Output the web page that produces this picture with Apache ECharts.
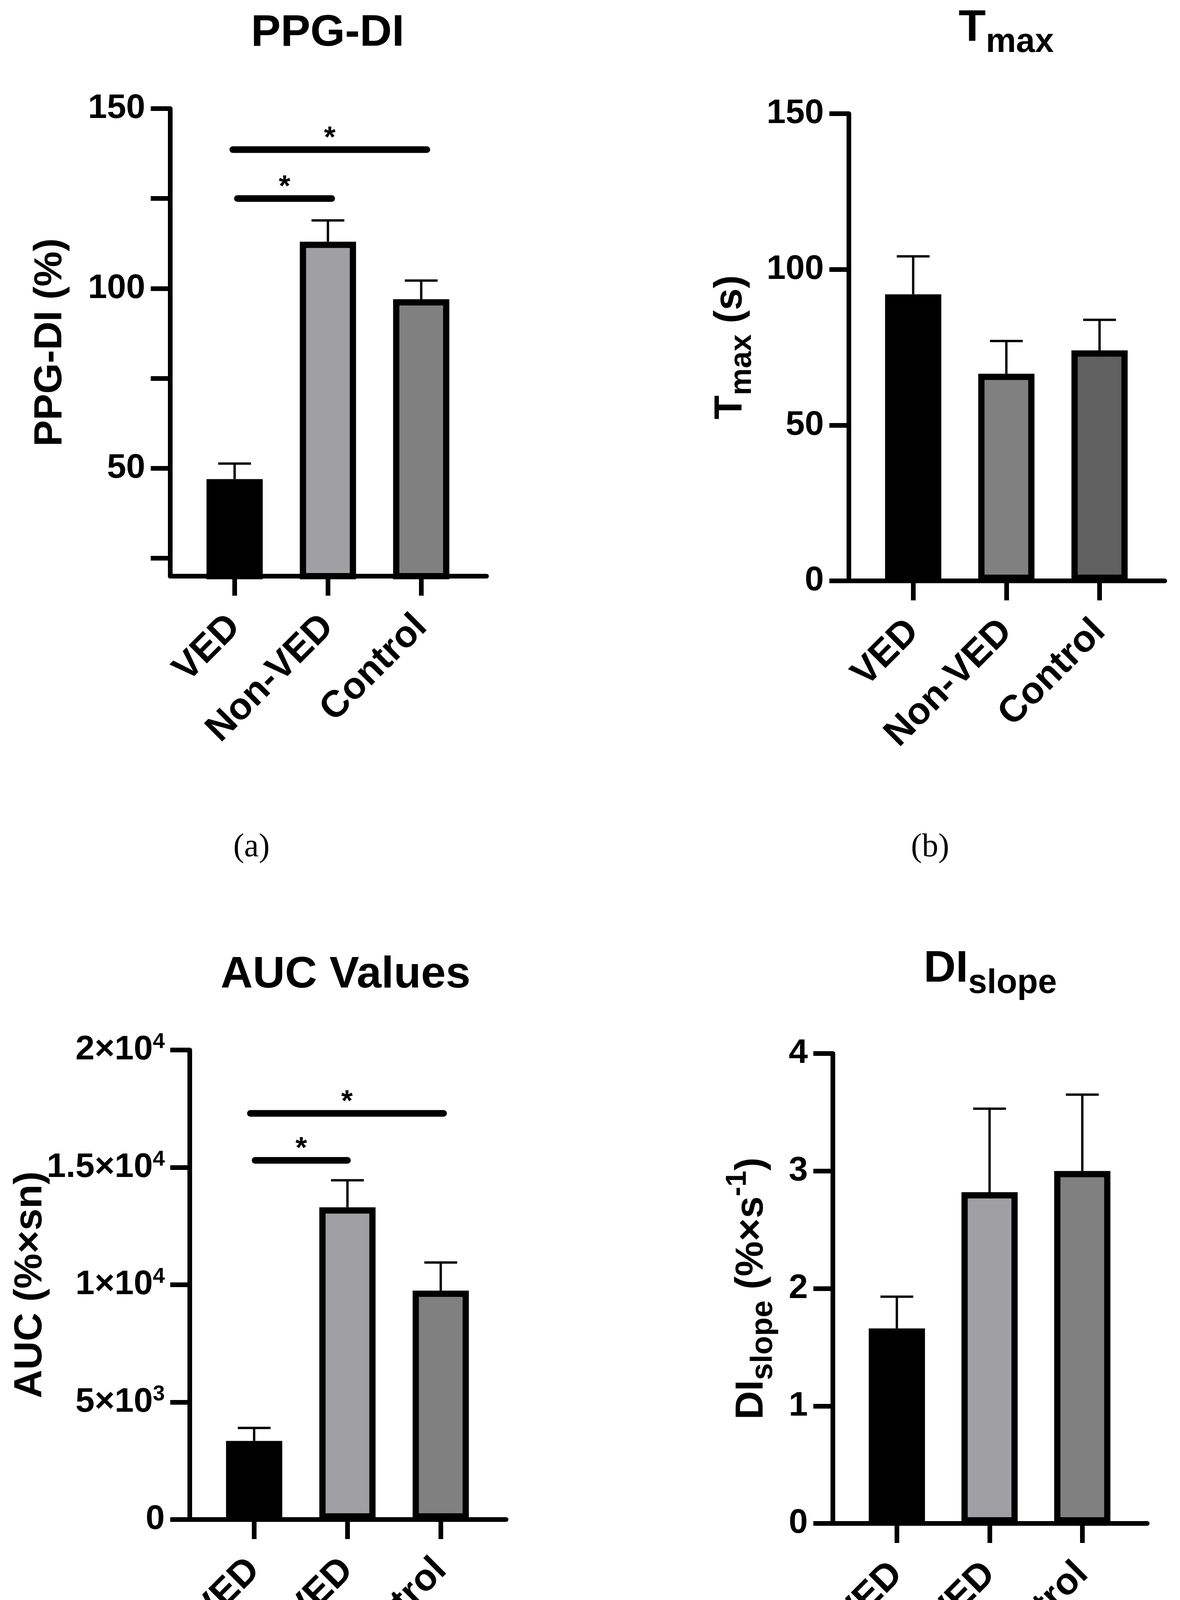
<!DOCTYPE html>
<html><head><meta charset="utf-8">
<script src="https://cdn.jsdelivr.net/npm/echarts@6/dist/echarts.min.js"></script>
<style>html,body{margin:0;padding:0;background:#fff}#c{width:3022px;height:4631px}</style>
</head><body><div id="c"></div><script>
// ---------------- data ----------------
const categories = ['VED', 'Non-VED', 'Control'];
const ppgdiMean = [47.0, 113.0, 97.0];
const ppgdiSem  = [4.3, 5.9, 5.2];
const tmaxMean  = [92.0, 66.5, 74.0];
const tmaxSem   = [12.2, 10.5, 9.8];
const aucMean   = [3350, 13300, 9750];
const aucSem    = [550, 1150, 1200];
const slopeMean = [1.66, 2.82, 3.00];
const slopeSem  = [0.27, 0.71, 0.65];
// significance bars: [from group, to group, height]
const ppgdiSig = [[0, 2, 138.6], [0, 1, 125.0]];
const aucSig   = [[0, 2, 17300], [0, 1, 15300]];
// axis ticks / labels
const ppgdiTicks  = [25, 50, 75, 100, 125, 150];
const ppgdiLabels = [50, 100, 150];
const tmaxTicks   = [0, 50, 100, 150];
const aucTicks    = [0, 5000, 10000, 15000, 20000];
const slopeTicks  = [0, 1, 2, 3, 4];
const catPositions = [0, 1, 2];

// ---------------- style / layout ----------------
const FF = '"Liberation Sans", Arial, Helvetica, sans-serif';
const SERIF = '"Liberation Serif", "Times New Roman", serif';
const W = 3022, H = 4631;
const lightColors = ['#000000', '#a0a0a4', '#808080'];
const darkColors  = ['#000000', '#808080', '#606060'];

const tickFont = 88, catFont = 96, nameFont = 101;
function tok(size, box, va, bold) {
  return {fontSize: size, fontWeight: bold === false ? 'normal' : 'bold', fontFamily: FF, color: '#000', fill: '#000',
          lineHeight: box, height: box, verticalAlign: va};
}
const nameRich = {b: tok(nameFont, 120, 'bottom'), s: tok(78, 60, 'bottom'), p: tok(74, 50, 'top')};
const tickRich = {b: tok(tickFont, 100, 'bottom'), p: tok(55, 60, 'top')};
const titleRich = {b: tok(114, 130, 'bottom'), s: tok(87, 58, 'bottom')};

function supFormat(v) {
  if (v === 0) return '{b|0}';
  const e = Math.floor(Math.log10(v));
  const m = v / Math.pow(10, e);
  return '{b|' + m + '×10}{p|' + e + '}';
}

const panels = [
  {means: ppgdiMean, sems: ppgdiSem, colors: lightColors, sig: ppgdiSig, sigExt: [[-0.02, 0.06], [0.03, 0.04]],
   left: 436, top: 278, axisY: 1475, width: 810,
   y: {min: 20, max: 150, axisTick: {customValues: ppgdiTicks}, axisLabel: {customValues: ppgdiLabels, formatter: v => '{b|' + v + '}'}},
   name: '{b|PPG-DI (%)}', nameGap: 247},
  {means: tmaxMean, sems: tmaxSem, colors: darkColors, sig: [], sigExt: [],
   left: 2174, top: 291, axisY: 1487, width: 809,
   y: {min: 0, max: 150, axisTick: {customValues: tmaxTicks}, axisLabel: {customValues: tmaxTicks, formatter: v => '{b|' + v + '}'}},
   name: '{b|T}{s|max}{b| (s)}', nameGap: 243},
  {means: aucMean, sems: aucSem, colors: lightColors, sig: aucSig, sigExt: [[-0.04, 0.03], [0.01, 0.0]],
   left: 486, top: 2688, axisY: 3890, width: 810,
   y: {min: 0, max: 20000, axisTick: {customValues: aucTicks}, axisLabel: {customValues: aucTicks, formatter: supFormat}},
   name: '{b|AUC (%×sn)}', nameGap: 348},
  {means: slopeMean, sems: slopeSem, colors: lightColors, sig: [], sigExt: [],
   left: 2133, top: 2697, axisY: 3900, width: 805,
   y: {min: 0, max: 4, axisTick: {customValues: slopeTicks}, axisLabel: {customValues: slopeTicks, formatter: v => '{b|' + v + '}'}},
   name: '{b|DI}{s|slope}{b| (%×s}{p|-1}{b|)}', nameGap: 148}
];

const grids = [], xAxes = [], yAxes = [], series = [];
panels.forEach((p, i) => {
  grids.push({left: p.left, top: p.top, width: p.width, height: p.axisY - p.top,
              outerBoundsMode: 'none', containLabel: false});
  xAxes.push({
    type: 'value', gridIndex: i, min: -0.69, max: 2.70,
    axisLine: {show: true, onZero: false, lineStyle: {color: '#000', width: 12}},
    axisTick: {show: true, length: 50, customValues: catPositions, lineStyle: {color: '#000', width: 12}},
    axisLabel: {show: true, customValues: catPositions, rotate: 45, margin: 115,
                formatter: v => categories[Math.round(v)] || '',
                fontSize: catFont, fontWeight: 'bold', fontFamily: FF, color: '#000'},
    splitLine: {show: false}
  });
  yAxes.push({
    type: 'value', gridIndex: i, min: p.y.min, max: p.y.max,
    axisLine: {show: true, onZero: false, lineStyle: {color: '#000', width: 12}},
    axisTick: Object.assign({show: true, length: 50, lineStyle: {color: '#000', width: 12}}, p.y.axisTick),
    axisLabel: Object.assign({margin: 64, fontSize: tickFont, fontWeight: 'bold', fontFamily: FF, color: '#000',
      rich: tickRich}, p.y.axisLabel),
    splitLine: {show: false},
    name: p.name, nameLocation: 'middle', nameGap: p.nameGap, nameMoveOverlap: false,
    nameTextStyle: {rich: nameRich, fontSize: nameFont, fontWeight: 'bold', fontFamily: FF, color: '#000', lineHeight: 120}
  });
  series.push({
    type: 'bar', xAxisIndex: i, yAxisIndex: i, barWidth: 144, clip: true,
    data: p.means.map((v, j) => ({value: [j, v], itemStyle: {color: p.colors[j]}})),
    itemStyle: {borderColor: '#000', borderWidth: 16},
    emphasis: {disabled: true}, animation: false
  });
  series.push({
    type: 'custom', xAxisIndex: i, yAxisIndex: i, z: 3, animation: false,
    encode: {x: 0, y: [1, 2]},
    data: p.means.map((v, j) => [j, v, v + p.sems[j]]),
    renderItem: (params, api) => {
      const x = api.value(0), m = api.value(1), t = api.value(2);
      const a = api.coord([x, m]), b = api.coord([x, t]);
      const half = 42;
      return {type: 'group', children: [
        {type: 'line', shape: {x1: a[0], y1: a[1], x2: b[0], y2: b[1]}, style: {stroke: '#000', lineWidth: 6}},
        {type: 'line', shape: {x1: b[0] - half, y1: b[1], x2: b[0] + half, y2: b[1]}, style: {stroke: '#000', lineWidth: 6}}
      ]};
    }
  });
  if (p.sig.length) {
    series.push({
      type: 'custom', xAxisIndex: i, yAxisIndex: i, z: 4, animation: false,
      encode: {x: [0, 1], y: 2},
      data: p.sig.map((s, k) => [s[0] + p.sigExt[k][0], s[1] + p.sigExt[k][1], s[2]]),
      renderItem: (params, api) => {
        const a = api.coord([api.value(0), api.value(2)]);
        const b = api.coord([api.value(1), api.value(2)]);
        return {type: 'group', children: [
          {type: 'line', shape: {x1: a[0], y1: a[1], x2: b[0], y2: b[1]},
           style: {stroke: '#000', lineWidth: 17, lineCap: 'round'}},
          {type: 'text', x: (a[0] + b[0]) / 2, y: a[1] - 28,
           style: {text: '*', fontSize: 76, fontWeight: 'bold', fontFamily: FF, fill: '#000',
                   align: 'center', verticalAlign: 'middle'}}
        ]};
      }
    });
  }
});

const subRich = {
  n: {fontSize: 84, fontFamily: SERIF, fill: '#000'},
  k: {fontSize: 84, fontFamily: SERIF, fontWeight: 'bold', fill: '#000'}
};
function titleText(x, y, text) {
  return {type: 'text', x: x, y: y, silent: true,
          style: {text: text, rich: titleRich, align: 'center', verticalAlign: 'middle'}};
}
function subText(x, y, text) {
  return {type: 'text', x: x, y: y, silent: true,
          style: {text: text, rich: subRich, align: 'center', verticalAlign: 'middle'}};
}

const chart = echarts.init(document.getElementById('c'), null, {renderer: 'canvas', width: W, height: H});
chart.setOption({
  backgroundColor: '#ffffff',
  animation: false,
  grid: grids, xAxis: xAxes, yAxis: yAxes, series: series,
  graphic: [
    titleText(839, 86, '{b|PPG-DI}'),
    titleText(2577, 73, '{b|T}{s|max}'),
    titleText(885, 2497, '{b|AUC Values}'),
    titleText(2536, 2482, '{b|DI}{s|slope}'),
    subText(644, 2170, '{n|(a)}'),
    subText(2382, 2170, '{n|(b)}'),
    subText(642, 4565, '{n|(}{k|c}{n|)}'),
    subText(2382, 4565, '{n|(}{k|d}{n|)}')
  ]
});
</script></body></html>
